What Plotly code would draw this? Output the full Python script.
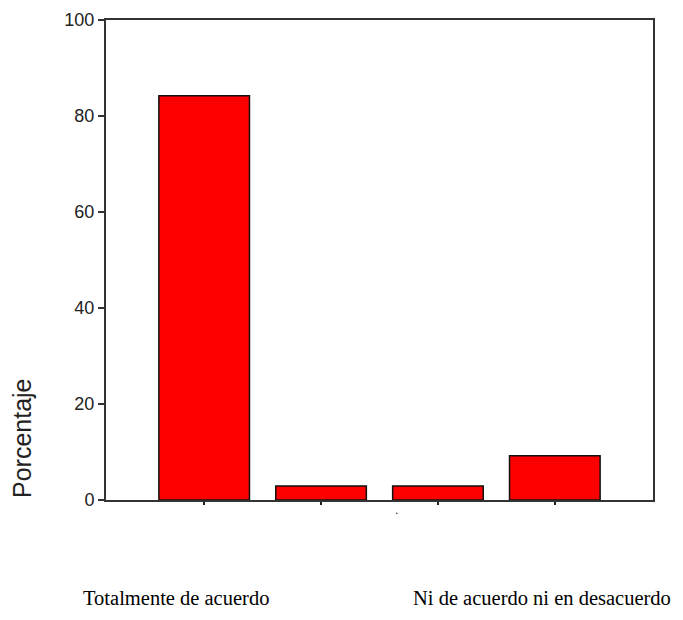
import plotly.graph_objects as go

categories = ["Totalmente de acuerdo", "De acuerdo", "En desacuerdo", "Ni de acuerdo ni en desacuerdo"]
porcentaje = [84.2, 2.9, 2.9, 9.2]
y_ticks = [0, 20, 40, 60, 80, 100]
bottom_labels = ["Totalmente de acuerdo", "Ni de acuerdo ni en desacuerdo"]

OFF = 8  # page body margin
W, H = 683 - 2 * OFF, 620 - 2 * OFF
L, T = 106 - OFF, 20 - OFF
R = W - (653 - OFF)
B = H - (500 - OFF)
pw, ph = W - L - R, H - T - B

def px(x):
    return (x - OFF - L) / pw

def py(y):
    return (H - B - (y - OFF)) / ph

fig = go.Figure()
fig.add_trace(go.Bar(
    x=categories, y=porcentaje, width=0.775,
    marker=dict(color="#FF0000", line=dict(color="#111111", width=1.5)),
    showlegend=False,
))

fig.update_xaxes(
    range=[-0.84, 3.84], showticklabels=False, automargin=False,
    ticks="outside", ticklen=3, tickwidth=1.5, tickcolor="#222222",
    showline=True, linecolor="#333333", linewidth=2, mirror=True,
    showgrid=False, zeroline=False,
)
fig.update_yaxes(
    range=[0, 100], tickvals=y_ticks, ticktext=[str(v) for v in y_ticks],
    automargin=False,
    ticks="outside", ticklen=6, tickwidth=1.5, tickcolor="#333333",
    tickfont=dict(family="Liberation Sans, Arial, sans-serif", size=18, color="#222222"),
    showline=True, linecolor="#333333", linewidth=2, mirror=True,
    showgrid=False, zeroline=False,
)

annotations = [
    dict(text="Porcentaje", textangle=-90, x=px(22), y=py(438), xref="paper", yref="paper",
         xanchor="center", yanchor="middle", showarrow=False,
         font=dict(family="Liberation Sans, Arial, sans-serif", size=25, color="#222222")),
    dict(text=".", x=px(396), y=py(510), xref="paper", yref="paper",
         xanchor="center", yanchor="middle", showarrow=False,
         font=dict(family="Liberation Sans, Arial, sans-serif", size=12, color="#222222")),
]
label_x = [81, 411]
for lbl, lx in zip(bottom_labels, label_x):
    annotations.append(dict(
        text=lbl, x=px(lx), y=py(598), xref="paper", yref="paper",
        xanchor="left", yanchor="middle", showarrow=False,
        font=dict(family="Liberation Serif, Times New Roman, serif", size=20.5, color="#000000"),
    ))

fig.update_layout(
    width=W, height=H,
    margin=dict(l=L, r=R, t=T, b=B, pad=0, autoexpand=False),
    paper_bgcolor="white", plot_bgcolor="white",
    annotations=annotations,
    bargap=0.2,
)

fig.write_html("out.html")
